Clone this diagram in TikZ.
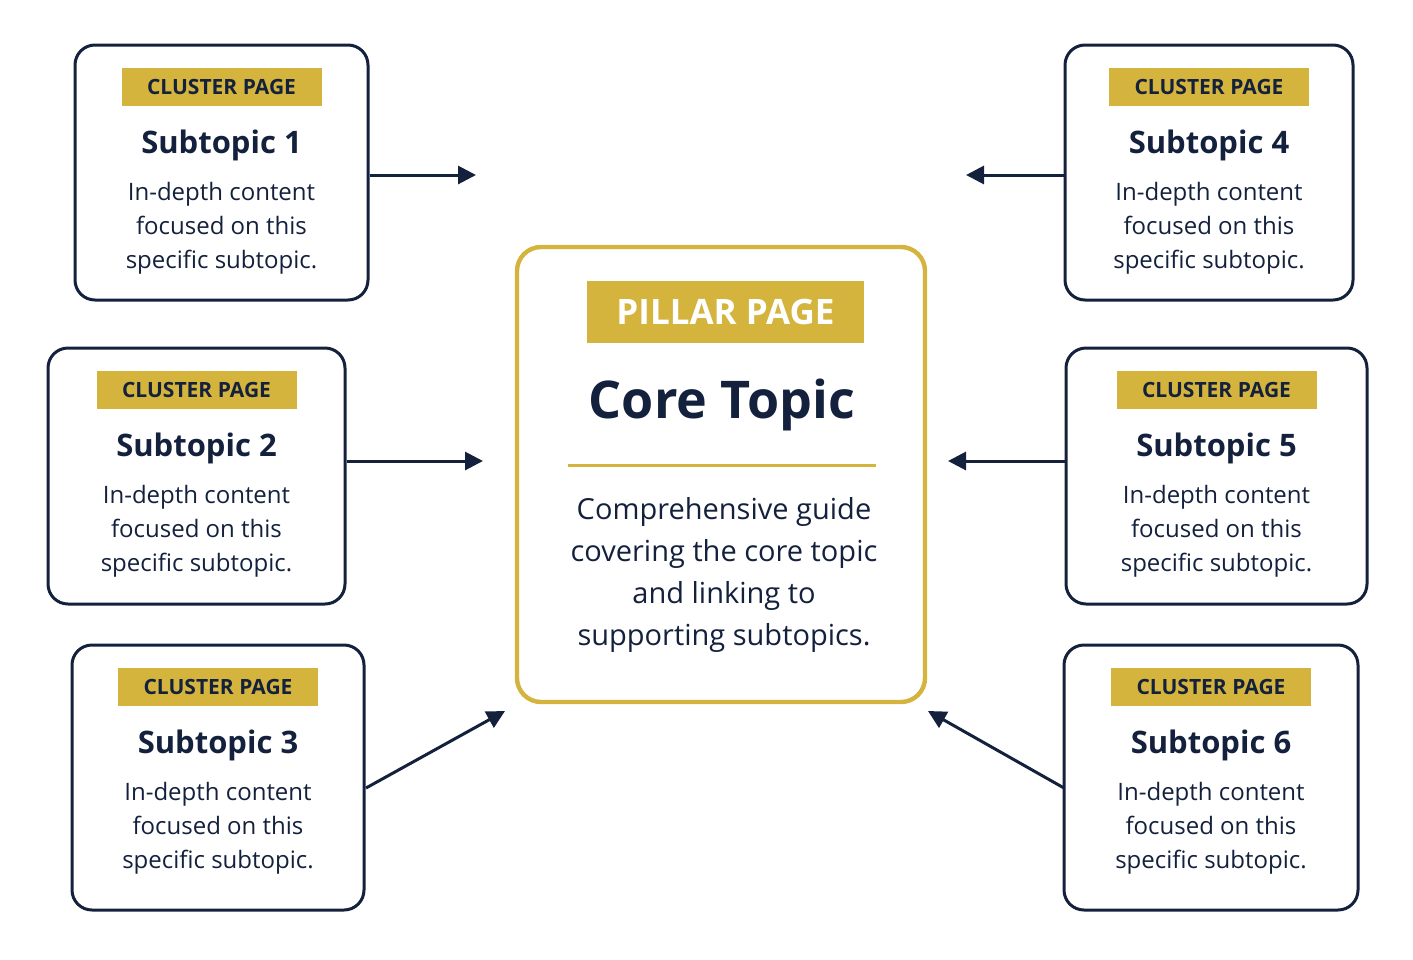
\documentclass[tikz,border=0pt]{standalone}
\usepackage{fontspec}
\setmainfont{Open Sans}
\usetikzlibrary{arrows.meta}
\definecolor{navy}{HTML}{14213D}
\definecolor{gold}{HTML}{D4B43C}
\tikzset{
  card/.style={draw=navy,line width=1.5pt,rounded corners=10pt,fill=white},
  tag/.style={fill=gold,text=navy,font=\bfseries\fontsize{10.5}{12}\selectfont,minimum width=100pt,minimum height=19pt,inner sep=0pt},
  ttl/.style={text=navy,font=\bfseries\fontsize{15.5}{18}\selectfont},
  bod/.style={text=navy,align=center,font=\fontsize{12}{17}\selectfont},
  link/.style={draw=navy,line width=1.5pt,-{Triangle[length=9pt,width=9pt]}}
}
\newcommand{\cluster}[6]{%
  \pgfmathsetmacro{\cx}{(#2+#4)/2}
  \node[card,minimum width={(#4-#2)*0.5pt},minimum height={(#5-#3)*0.5pt}] (#1) at ({(#2+#4)/2},{(#3+#5)/2}) {};
  \node[tag] (#1t) at (\cx,#3+42) {CLUSTER PAGE};
  \node[ttl] (#1h) at (\cx,#3+100) {Subtopic #6};
  \node[bod] (#1b) at (\cx,#3+183) {In-depth content\\focused on this\\specific subtopic.};
}
\begin{document}
\begin{tikzpicture}[x=0.5pt,y=-0.5pt]
\useasboundingbox (0,0) rectangle (1413,959);
\cluster{c1}{75}{45}{368}{300}{1}
\cluster{c2}{48}{348}{345}{604}{2}
\cluster{c3}{72}{645}{364}{910}{3}
\cluster{c4}{1065}{45}{1353}{300}{4}
\cluster{c5}{1066}{348}{1367}{604}{5}
\cluster{c6}{1064}{645}{1358}{910}{6}
\node[draw=gold,line width=2.2pt,rounded corners=12pt,fill=white,minimum width=204pt,minimum height=227.5pt] (p) at (721,474.5) {};
\node[fill=gold,text=white,font=\bfseries\fontsize{17.5}{20}\selectfont,minimum width=138.5pt,minimum height=31pt,inner sep=0pt] (pt) at (725.5,312) {PILLAR PAGE};
\node[text=navy,font=\bfseries\fontsize{26}{30}\selectfont] (ph) at (722,405) {Core Topic};
\coordinate (l1) at (568,465); \coordinate (l2) at (876,465);
\draw[gold,line width=1.5pt] (l1) -- (l2);
\node[bod,font=\fontsize{14.5}{21}\selectfont] (pb) at (724,575) {Comprehensive guide\\covering the core topic\\and linking to\\supporting subtopics.};
\coordinate (a1) at (476,175); \coordinate (a2) at (483,461); \coordinate (a3) at (505,711);
\coordinate (a4) at (966,175); \coordinate (a5) at (948,461); \coordinate (a6) at (928,711);
\coordinate (s3) at (366,788); \coordinate (s6) at (1064,788);
\draw[link] (c1.east|-a1) -- (a1);
\draw[link] (c2.east|-a2) -- (a2);
\draw[link] (s3) -- (a3);
\draw[link] (c4.west|-a4) -- (a4);
\draw[link] (c5.west|-a5) -- (a5);
\draw[link] (s6) -- (a6);
\end{tikzpicture}
\end{document}
